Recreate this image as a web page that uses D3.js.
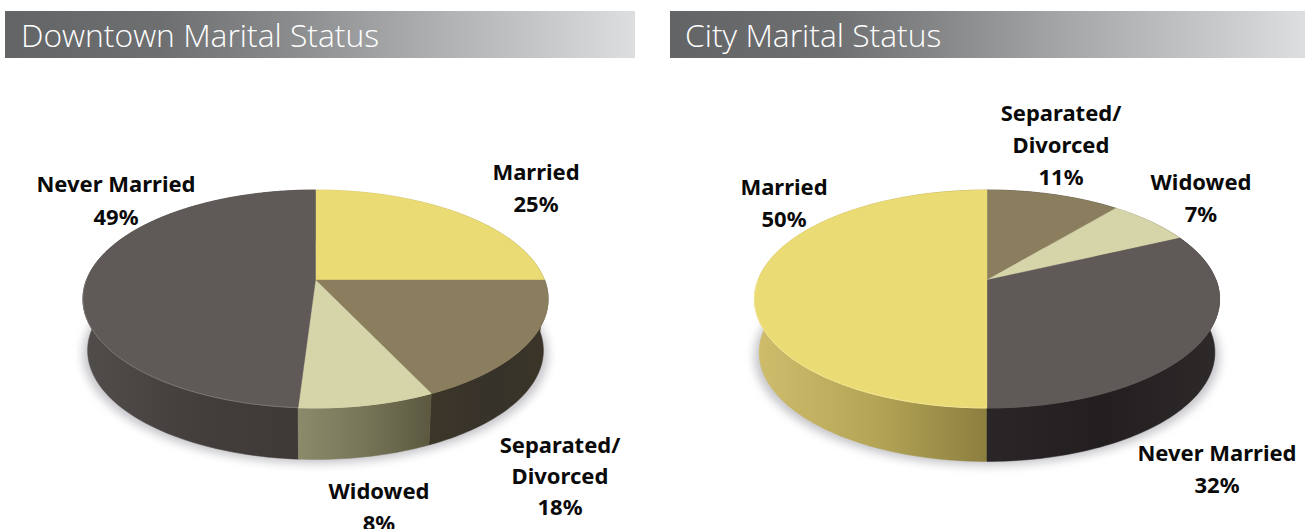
<!DOCTYPE html>
<html><head><meta charset="utf-8">
<script src="https://cdnjs.cloudflare.com/ajax/libs/d3/7.8.5/d3.min.js"></script>
<style>html,body{margin:0;padding:0;background:#fff;overflow:hidden}svg{display:block}</style>
</head><body><svg id="c" width="1305" height="529"></svg>
<script>
const titles = ["Downtown Marital Status", "City Marital Status"];
const downtownCategories = ["Married", "Separated/Divorced", "Widowed", "Never Married"];
const downtownValues = [25, 18, 8, 49];
const cityCategories = ["Separated/Divorced", "Widowed", "Never Married", "Married"];
const cityValues = [11, 7, 32, 50];

const topColors = {"Married":"#ebdb74","Separated/Divorced":"#8a7e5f","Widowed":"#d6d5a9","Never Married":"#5f5957"};
const downtownRim = {"Married":"#ebdb74","Separated/Divorced":"#8a7e5f","Widowed":"#d6d5a9","Never Married":"#7b7672"};
const cityRim = {"Married":"#f4e794","Separated/Divorced":"#8a7e5f","Widowed":"#d6d5a9","Never Married":"#5f5957"};
const sideStops = {
  "Married":["#cfbd6c","#b5a657","#8c7f3f"],
  "Separated/Divorced":["#3c3629","#37322a","#3a3527"],
  "Widowed":["#8b8b6b","#777558","#5a583f"],
  "Never Married":["#514d4a","#433e3b","#3e3936"]
};
const citySideStops = Object.assign({}, sideStops, {"Never Married":["#2a2526","#231f20","#2e2a2a"]});

const svg = d3.select("#c");
const defs = svg.append("defs");
defs.append("filter").attr("id","blur").attr("x","-20%").attr("y","-20%").attr("width","140%").attr("height","140%")
  .append("feGaussianBlur").attr("stdDeviation",5);

const hg = defs.append("linearGradient").attr("id","hdr");
[["0%","#636466"],["25%","#6e6f71"],["42%","#858688"],["60%","#a2a3a5"],["85%","#c6c7c9"],["100%","#dddee0"]]
  .forEach(s=>hg.append("stop").attr("offset",s[0]).attr("stop-color",s[1]));

const headers = [{x:5,w:630,t:titles[0],tx:21},{x:670,w:635,t:titles[1],tx:685}];
headers.forEach(h=>{
  svg.append("rect").attr("x",h.x).attr("y",11).attr("width",h.w).attr("height",47).attr("fill","url(#hdr)");
  svg.append("text").attr("x",h.tx).attr("y",46.5).attr("fill","#fff")
    .attr("font-family","'Open Sans','Noto Sans',sans-serif").attr("font-size",31.8).attr("font-weight",300).text(h.t);
});

const persp = -0.174, halfW = 229, halfH = 105.7;
function project(angle, o){
  const X = Math.sin(angle), Y = -Math.cos(angle), w = 1 + persp*Y;
  return [o.cx + o.s*halfW*X/w, o.cy + o.dy + halfH*Y/w];
}
const line = d3.line();
const pie = d3.pie().sort(null).startAngle(0).endAngle(2*Math.PI).padAngle(0);

function samples(a0,a1){ const n=Math.max(4,Math.ceil((a1-a0)/0.02)); return d3.range(n+1).map(i=>a0+(a1-a0)*i/n); }

function drawPie(id, cats, vals, cx, cy, depth, stops, rim){
  const g = svg.append("g");
  const arcs = pie(vals).map((d,i)=>({...d,cat:cats[i]}));
  const topO = {cx,cy,dy:0,s:1}, botO = {cx,cy,dy:depth,s:0.98};
  g.append("path").attr("d",line(samples(0,2*Math.PI).map(a=>project(a,{cx,cy:cy+4,dy:depth,s:1.0})))+"Z")
    .attr("fill","#8c8c96").attr("opacity",.5).attr("filter","url(#blur)");
  const order = arcs.slice().sort((a,b)=>(-Math.cos((a.startAngle+a.endAngle)/2))-(-Math.cos((b.startAngle+b.endAngle)/2)));
  order.forEach((d,i)=>{
    const as = samples(d.startAngle,d.endAngle);
    const tp = as.map(a=>project(a,topO)), bt = as.map(a=>project(a,botO)).reverse();
    const xs = tp.map(p=>p[0]);
    const gid = id+"s"+i;
    const lg = defs.append("linearGradient").attr("id",gid).attr("gradientUnits","userSpaceOnUse")
      .attr("x1",d3.min(xs)).attr("x2",d3.max(xs)).attr("y1",0).attr("y2",0);
    stops[d.cat].forEach((c,k)=>lg.append("stop").attr("offset",k/(stops[d.cat].length-1)).attr("stop-color",c));
    g.append("path").attr("d",line(tp.concat(bt))+"Z").attr("fill",`url(#${gid})`).attr("stroke",`url(#${gid})`).attr("stroke-width",.5);
  });
  arcs.forEach(d=>{
    const pts = [[cx,cy]].concat(samples(d.startAngle,d.endAngle).map(a=>project(a,topO)));
    g.append("path").attr("d",line(pts)+"Z").attr("fill",topColors[d.cat]).attr("stroke",topColors[d.cat]).attr("stroke-width",.4);
  });
  arcs.forEach(d=>{
    const a0=Math.max(d.startAngle,Math.PI/2), a1=Math.min(d.endAngle,3*Math.PI/2);
    if(a1<=a0) return;
    g.append("path").attr("d",line(samples(a0,a1).map(a=>project(a,topO)))).attr("fill","none")
      .attr("stroke",rim[d.cat]).attr("stroke-width",1);
  });
}
drawPie("d",downtownCategories,downtownValues,315.5,280,51.5,sideStops,downtownRim);
drawPie("c",cityCategories,cityValues,987,280,53.5,citySideStops,cityRim);

const labels = [
  {x:536,y:[180,212],t:["Married","25%"]},
  {x:116,y:[192,225],t:["Never Married","49%"]},
  {x:560,y:[453,484,515],t:["Separated/","Divorced","18%"]},
  {x:379,y:[499,531],t:["Widowed","8%"]},
  {x:1061,y:[121,153,185],t:["Separated/","Divorced","11%"]},
  {x:1201,y:[190,222],t:["Widowed","7%"]},
  {x:784,y:[195,227],t:["Married","50%"]},
  {x:1217,y:[461,493],t:["Never Married","32%"]}
];
labels.forEach(l=>l.t.forEach((s,i)=>{
  svg.append("text").attr("x",l.x).attr("y",l.y[i]).attr("text-anchor","middle")
    .attr("font-family","'Noto Sans','Open Sans',sans-serif").attr("font-weight",700).attr("font-size",22)
    .attr("fill","#0a0a0a").text(s);
}));
</script></body></html>
